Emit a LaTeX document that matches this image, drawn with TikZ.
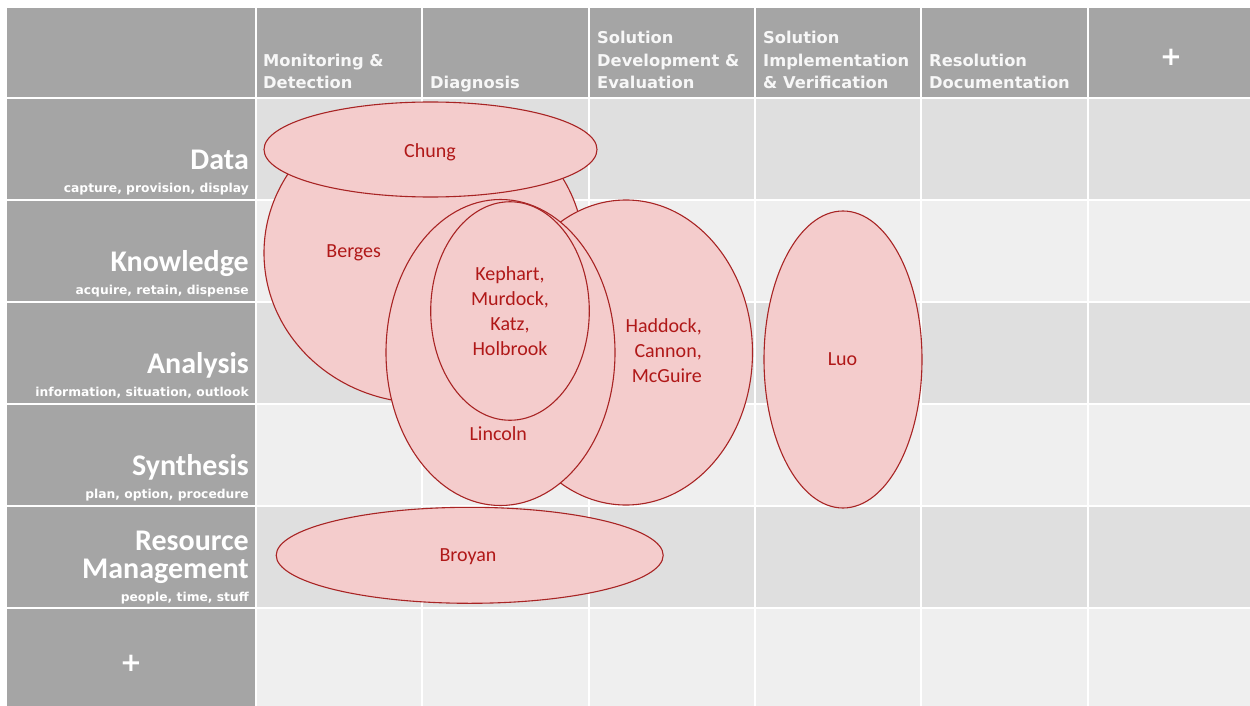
\documentclass[tikz,border=0pt]{standalone}
\usepackage{fontspec}
\setmainfont{Carlito}
\newfontfamily\hdrfont{DejaVu Sans}
\usetikzlibrary{shapes.geometric}
\definecolor{hdrgray}{HTML}{A5A5A5}
\definecolor{celldark}{HTML}{DFDFDF}
\definecolor{celllight}{HTML}{EFEFEF}
\definecolor{blobfill}{HTML}{F4CCCC}
\definecolor{blobline}{HTML}{A82424}
\definecolor{blobtext}{HTML}{B01818}
\definecolor{hdrtext}{HTML}{F7F7F7}
\newcommand\cstack[1]{\vbox{\halign{\hfil##\hfil\cr#1\crcr}}}
\newcommand\rstack[1]{\vbox{\halign{\hfil##\cr#1\crcr}}}
\newcommand\lstack[1]{\vbox{\halign{##\hfil\cr#1\crcr}}}
\tikzset{
  blob/.style={ellipse, draw=blobline, fill=blobfill, line width=1.1pt, inner sep=0pt},
  blobtext/.style={text=blobtext, font=\fontsize{20}{25}\selectfont, inner sep=0pt},
  hdr/.style={text=hdrtext, font=\hdrfont\bfseries\fontsize{16.3}{22.5}\selectfont, inner sep=0pt, anchor=base west},
  rowlab/.style={text=white, font=\bfseries\fontsize{30}{28}\selectfont, inner sep=0pt, anchor=base east},
  rowsub/.style={text=white, font=\hdrfont\bfseries\fontsize{12.3}{14}\selectfont, inner sep=0pt, anchor=base east},
  plussign/.style={text=white, font=\hdrfont\bfseries\fontsize{26}{28}\selectfont, inner sep=0pt, anchor=base},
  gridline/.style={white, line width=2pt},
}
\begin{document}
\begin{tikzpicture}[x=1pt,y=-1pt]
\useasboundingbox (0,0) rectangle (1250,706);
\fill[white] (0,0) rectangle (1250,706);
% header row and left column
\fill[hdrgray] (7,8) rectangle (1250,98);
\fill[hdrgray] (7,98) rectangle (256,706);
% body rows
\fill[celldark]  (256,98)  rectangle (1250,200);
\fill[celllight] (256,200) rectangle (1250,302);
\fill[celldark]  (256,302) rectangle (1250,404);
\fill[celllight] (256,404) rectangle (1250,506);
\fill[celldark]  (256,506) rectangle (1250,608);
\fill[celllight] (256,608) rectangle (1250,706);
% grid lines
\foreach \gx in {256,422,589,755,921,1088} {\draw[gridline] (\gx,8) -- (\gx,706);}
\foreach \gy in {98,200,302,404,506,608} {\draw[gridline] (7,\gy) -- (1250,\gy);}

% column headers
\node[hdr] (h1) at (263,89) {\lstack{Monitoring \&\cr Detection}};
\node[hdr] (h2) at (430,89) {Diagnosis};
\node[hdr] (h3) at (597,89) {\lstack{Solution\cr Development \&\cr Evaluation}};
\node[hdr] (h4) at (763,89) {\lstack{Solution\cr Implementation\cr \& Verification}};
\node[hdr] (h5) at (929,89) {\lstack{Resolution\cr Documentation}};
\node[plussign] (h6) at (1171,65.4) {+};

% row labels
\node[rowlab] (r1) at (249,169) {Data};
\node[rowsub] (r1s) at (249,192) {capture, provision, display};
\node[rowlab] (r2) at (249,271) {Knowledge};
\node[rowsub] (r2s) at (249,294) {acquire, retain, dispense};
\node[rowlab] (r3) at (249,373) {Analysis};
\node[rowsub] (r3s) at (249,396.5) {information, situation, outlook};
\node[rowlab] (r4) at (249,475) {Synthesis};
\node[rowsub] (r4s) at (249,498) {plan, option, procedure};
\node[rowlab] (r5) at (249,578) {\rstack{Resource\cr Management}};
\node[rowsub] (r5s) at (249,601) {people, time, stuff};
\node[plussign] (r6) at (131,671.4) {+};

% ellipses
\node[blob, minimum width=320pt, minimum height=300pt] (berges) at (424,253) {};
\node[blob, minimum width=333pt, minimum height=95pt] (chung) at (430.5,149.5) {};
\node[blob, minimum width=253pt, minimum height=305pt] (haddock) at (626,352.5) {};
\node[blob, minimum width=229pt, minimum height=306pt] (lincoln) at (500.5,352.5) {};
\node[blob, minimum width=158.6pt, minimum height=218.5pt] (kephart) at (510,311) {};
\node[blob, minimum width=158pt, minimum height=297pt] (luo) at (843,359.5) {};
\node[blob, minimum width=387pt, minimum height=96pt] (broyan) at (469.7,555.3) {};

% ellipse labels
\node[blobtext, anchor=base] (tchung) at (430,157.5) {Chung};
\node[blobtext, anchor=base] (tberges) at (353.7,257.5) {Berges};
\node[blobtext, anchor=base] (tkephart) at (510,355) {\cstack{Kephart,\cr Murdock,\cr Katz,\cr Holbrook}};
\node[blobtext, anchor=base east] (thaddock) at (702,382.5) {\rstack{Haddock,\cr Cannon,\cr McGuire}};
\node[blobtext, anchor=base] (tlincoln) at (498.3,440.7) {Lincoln};
\node[blobtext, anchor=base] (tluo) at (842.5,365.7) {Luo};
\node[blobtext, anchor=base] (tbroyan) at (468,561) {Broyan};
\end{tikzpicture}
\end{document}
